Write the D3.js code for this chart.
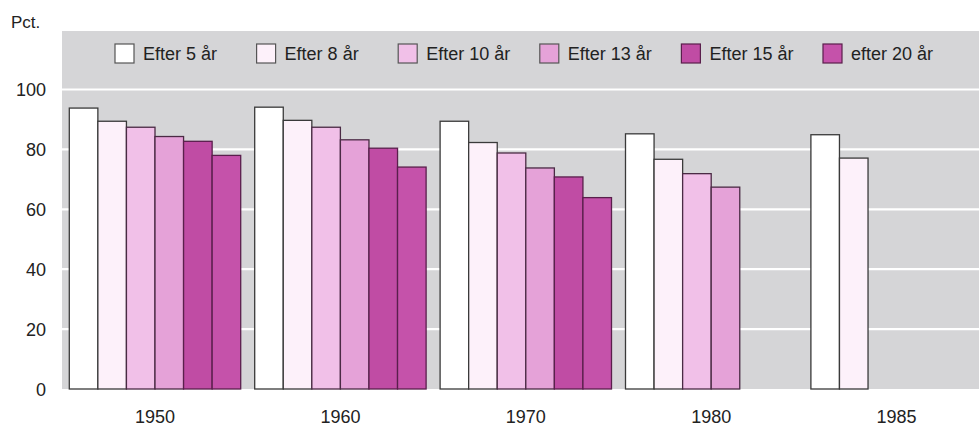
<!DOCTYPE html>
<html><head><meta charset="utf-8">
<script src="https://cdn.jsdelivr.net/npm/d3@7"></script>
<style>
html,body{margin:0;padding:0;background:#fff;}
svg{display:block;}
text{font-family:"Liberation Sans",Arial,sans-serif;fill:#222;}
</style></head>
<body>
<svg id="chart" width="979" height="426"></svg>
<script>
const years = ["1950","1960","1970","1980","1985"];
const seriesNames = ["Efter 5 år","Efter 8 år","Efter 10 år","Efter 13 år","Efter 15 år","efter 20 år"];
const seriesColors = ["#ffffff","#fdf1fa","#f1c0e8","#e5a2d8","#c04ca4","#c552aa"];
const s5  = [93.8, 94.1, 89.4, 85.2, 84.9];
const s8  = [89.4, 89.7, 82.3, 76.7, 77.1];
const s10 = [87.4, 87.4, 78.8, 71.9, null];
const s13 = [84.3, 83.2, 73.8, 67.4, null];
const s15 = [82.7, 80.4, 70.8, null, null];
const s20 = [78.0, 74.1, 63.9, null, null];
const yTicks = [0, 20, 40, 60, 80, 100];
const yLabel = "Pct.";

const allSeries = [s5, s8, s10, s13, s15, s20];
const svg = d3.select("#chart");
const FS = 18;

const plotLeft = 62, plotTop = 31;
const y = d3.scaleLinear().domain([0, 100]).range([389, 89.5]);
const x0 = d3.scaleBand().domain(years).range([62.3, 989.3]).paddingInner(0.0755).paddingOuter(0.03775);
const x1 = d3.scaleBand().domain(d3.range(seriesNames.length)).range([0, x0.bandwidth()]).padding(0);

// background
svg.append("rect").attr("x", plotLeft).attr("y", plotTop)
  .attr("width", 979 - plotLeft).attr("height", y(0) - plotTop)
  .attr("fill", "#d5d5d7");

// gridlines
svg.append("g").selectAll("line").data(yTicks.filter(d => d > 0)).join("line")
  .attr("x1", plotLeft).attr("x2", 979)
  .attr("y1", d => y(d)).attr("y2", d => y(d))
  .attr("stroke", "#ffffff").attr("stroke-width", 2.2);

// y axis labels
const yAxis = d3.axisLeft(y).tickValues(yTicks).tickSize(0).tickPadding(0);
const gy = svg.append("g").attr("transform", "translate(46,0)").call(yAxis);
gy.select(".domain").remove();
gy.selectAll("text").attr("font-size", FS).attr("fill", "#222").attr("dy", "0.35em")
  .style("font-family", '"Liberation Sans",Arial,sans-serif');

// x axis labels
const xAxis = d3.axisBottom(x0).tickSize(0).tickPadding(0);
const gx = svg.append("g").attr("transform", "translate(0,410)").call(xAxis);
gx.select(".domain").remove();
gx.selectAll("text").attr("font-size", FS).attr("fill", "#222").attr("dy", "0.71em")
  .style("font-family", '"Liberation Sans",Arial,sans-serif');

// y label
svg.append("text").attr("x", 11).attr("y", 28).attr("font-size", FS - 1).text(yLabel);

// bars
const barData = [];
years.forEach((yr, i) => {
  allSeries.forEach((s, j) => {
    if (s[i] != null) barData.push({year: yr, idx: j, value: s[i]});
  });
});
svg.append("g").selectAll("rect").data(barData).join("rect")
  .attr("x", d => x0(d.year) + x1(d.idx))
  .attr("y", d => y(d.value))
  .attr("width", x1.bandwidth())
  .attr("height", d => y(0) - y(d.value))
  .attr("fill", d => seriesColors[d.idx])
  .attr("stroke", d => d.idx >= 4 ? "#5a1f4c" : (d.idx >= 2 ? "#4a2a44" : "#3a3a3a"))
  .attr("stroke-width", 1.3);

// legend
const legX = d3.scaleLinear().domain([0, 5]).range([115, 823]);
const leg = svg.append("g").selectAll("g").data(seriesNames).join("g")
  .attr("transform", (d, i) => `translate(${legX(i)},44)`);
leg.append("rect").attr("width", 19).attr("height", 19)
  .attr("fill", (d, i) => seriesColors[i])
  .attr("stroke", (d, i) => i >= 4 ? "#5a1f4c" : "#555").attr("stroke-width", 1.2);
leg.append("text").attr("x", 28).attr("y", 16).attr("font-size", FS).text(d => d);
</script>
</body></html>
